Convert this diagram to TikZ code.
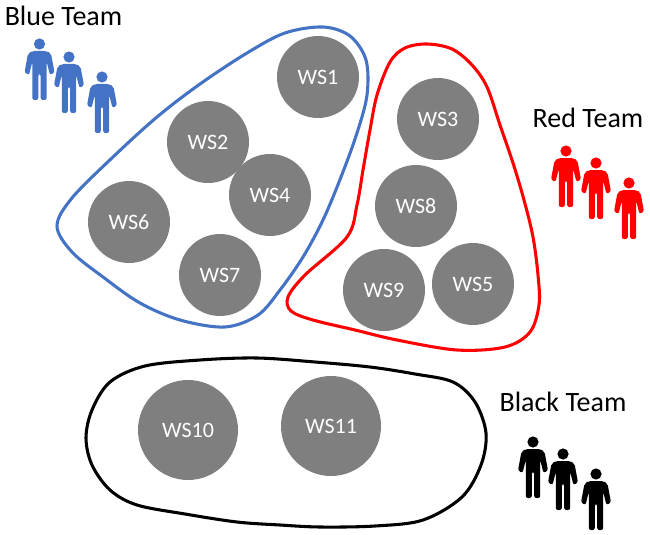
\documentclass[tikz,border=0pt]{standalone}
\usepackage{fontspec}
\setmainfont{Carlito}
\usetikzlibrary{positioning}
\definecolor{teamblue}{RGB}{68,114,196}
\definecolor{teamred}{RGB}{255,0,0}
\definecolor{wsgray}{RGB}{127,127,127}
\tikzset{
  person/.pic = {
    \fill[pic actions] (0,0) circle (5.6);
    \fill[pic actions, rounded corners=1.6pt]
      (-7,7) -- (7,7) -- (11.5,9.5) -- (15,28.5) -- (10.5,31) -- (7.2,18)
      -- (7.2,56) -- (1.2,56) -- (1.2,30) -- (-1.2,30) -- (-1.2,56) -- (-7.2,56)
      -- (-7.2,18) -- (-10.5,31) -- (-15,28.5) -- (-11.5,9.5) -- cycle;
  },
}
\begin{document}
\begin{tikzpicture}[
    x=0.75pt, y=-0.75pt,
    %---- styles ----
    ws/.style = {circle, fill=wsgray, text=white, inner sep=0pt,
                 minimum size=61.5pt, font=\fontsize{16.5}{18}\selectfont},
    bigws/.style = {ws, minimum size=75pt},
    team/.style = {font=\fontsize{21}{24}\selectfont, text=black, inner sep=0pt},
    blob/.style = {line width=2.3pt, fill=none},
]
\useasboundingbox (0,0) rectangle (650,535);

%---- outlines ----
\draw[blob, teamblue] plot[smooth cycle, tension=0.55] coordinates {
  (323,27) (350,36) (366,60) (367,95) (357,133) (341,177) (323,220) (303,257)
  (280,290) (258,315) (225,327) (180,320) (140,303) (103,277) (72,252) (57,226)
  (72,198) (113,157) (157,117) (200,84) (247,53) (285,33)};
\draw[blob, teamred] plot[smooth cycle, tension=0.55] coordinates {
  (427,44) (452,49) (472,65) (487,87) (500,125) (513,163) (524,200) (533,237)
  (538,275) (539,305) (530,332) (505,347) (457,350) (397,340) (355,330) (313,320)
  (291,311) (288,297) (305,275) (347,237) (357,205) (363,170) (370,130) (377,95)
  (390,62) (405,48)};
\draw[blob, black] plot[smooth cycle, tension=0.55] coordinates {
  (86,438) (92,410) (110,382) (145,366) (200,360) (257,358) (315,362) (370,367)
  (415,374) (453,382) (475,402) (486,433) (481,465) (462,497) (423,520) (375,526)
  (320,527) (280,525) (237,522) (185,514) (137,505) (110,490) (92,465)};

%---- workstations ----
\foreach \name/\x/\y/\lbl in {
  wsone/318/77/WS1, wstwo/208/142/WS2, wsfour/270/195/WS4, wssix/129/222/WS6,
  wsseven/220/275/WS7, wsthree/438/119/WS3, wseight/416/206/WS8,
  wsnine/384/290/WS9, wsfive/473/284/WS5}
  \node (\name) [ws] at (\x,\y) {\lbl};
\node (wsten)    [bigws] at (188,430) {WS10};
\node (wseleven) [bigws] at (331,426) {WS11};

%---- team labels ----
\node (bluelabel)  [team] at (63.5,16) {Blue Team};
\node (redlabel)   [team] at (588,118) {Red Team};
\node (blacklabel) [team] at (563,402) {Black Team};

%---- people ----
\foreach \x/\y in {39.5/44, 69/57, 102/77}
  \pic[fill=teamblue] at (\x,\y) {person};
\foreach \x/\y in {566/151, 596/163, 629/183}
  \pic[fill=teamred] at (\x,\y) {person};
\foreach \x/\y in {533/442, 563/454, 596/474}
  \pic[fill=black] at (\x,\y) {person};
\end{tikzpicture}
\end{document}
